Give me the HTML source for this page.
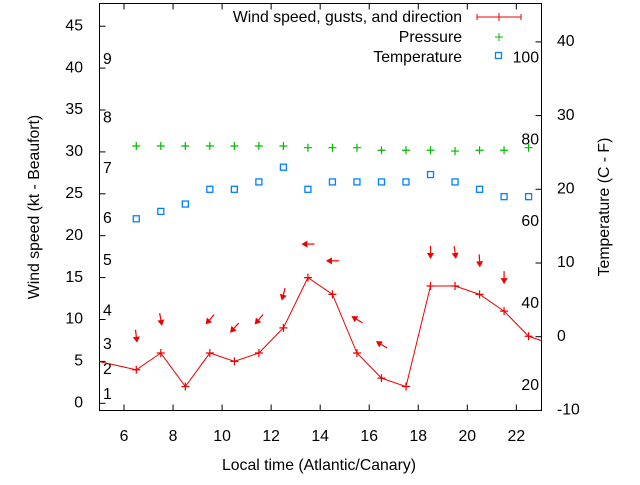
<!DOCTYPE html>
<html><head><meta charset="utf-8"><style>
body{margin:0;background:#fff;width:640px;height:480px;overflow:hidden}
svg text{font-family:"Liberation Sans",sans-serif;font-size:15.8px;fill:#000}
</style></head><body>
<svg id="c" width="640" height="480">
<defs><clipPath id="clip"><rect x="99.5" y="3.5" width="442" height="407"/></clipPath></defs>
<rect x="99.5" y="3.5" width="442" height="407" fill="none" stroke="#000" stroke-width="1"/>
<text x="35" y="207" transform="rotate(-90 35 207)" text-anchor="middle" dominant-baseline="middle">Wind speed (kt - Beaufort)</text>
<text x="605" y="207" transform="rotate(-90 605 207)" text-anchor="middle" dominant-baseline="middle">Temperature (C - F)</text>
<text x="319" y="470" text-anchor="middle">Local time (Atlantic/Canary)</text>
<g>
<text x="462" y="22" text-anchor="end">Wind speed, gusts, and direction</text>
<path d="M477 17H521M477 14V20M521 14V20M499 13V21" stroke="#e00" stroke-width="1"/>
<text x="462" y="42" text-anchor="end">Pressure</text>
<path d="M495 37H503M499 33V41" stroke="#0b0" stroke-width="1"/>
<text x="462" y="62" text-anchor="end">Temperature</text>
<rect x="495.5" y="52.5" width="6" height="6" fill="none" stroke="#0080ff" stroke-width="1.3"/>
</g>
<g id="g"></g>
</svg>
<script>
const hours=[6.5,7.5,8.5,9.5,10.5,11.5,12.5,13.5,14.5,15.5,16.5,17.5,18.5,19.5,20.5,21.5,22.5];
const windSpeed=[4,6,2,6,5,6,9,15,13,6,3,2,14,14,13,11,8];
const windBefore=[4.5,5.3];
const windAfter=[23.5,7];
const pressure=[30.7,30.7,30.7,30.7,30.7,30.7,30.7,30.5,30.5,30.5,30.2,30.2,30.2,30.1,30.2,30.2,30.5];
const temperature=[16,17,18,20,20,21,23,20,21,21,21,21,22,21,20,19,19];
const arrowHours=[6.5,7.5,9.5,10.5,11.5,12.5,13.5,14.5,15.5,16.5,18.5,19.5,20.5,21.5];
const arrowGust=[8,10,10,9,10,13,19,17,10,7,18,18,17,15];
const arrowDir=[353,350,41,42,40,15,90,90,121,121,0,352,357,0];
const xTicks=[6,8,10,12,14,16,18,20,22];
const yTicks=[0,5,10,15,20,25,30,35,40,45];
const y2Ticks=[-10,0,10,20,30,40];
const beaufortKt=[1,4,7,11,17,22,28,34,41];
const beaufortLabels=['1','2','3','4','5','6','7','8','9'];
const fahrenheit=[20,40,60,80,100];

const X=t=>99.5+(t-5)*24.52;
const Y=v=>403.3-v*8.38;
const YT=c=>336.7-c*7.37;
const NS='http://www.w3.org/2000/svg';
const g=document.getElementById('g');
function mk(tag,attrs,parent){const e=document.createElementNS(NS,tag);for(const k in attrs)e.setAttribute(k,attrs[k]);(parent||g).appendChild(e);return e;}
function txt(x,y,s,anchor){const e=mk('text',{x:x,y:y,'text-anchor':anchor,'dominant-baseline':'middle'});e.textContent=s;return e;}

xTicks.forEach(t=>{
 const l=mk('path',{d:`M${X(t)} 410.5v-6M${X(t)} 3.5v6`,stroke:'#000'});
 
 
 const e=txt(X(t),437,String(t),'middle');
 
 
});
yTicks.forEach(v=>{
 const l=mk('path',{d:`M99.5 ${Y(v)}h6`,stroke:'#000'});
 
 
 const e=txt(83,Y(v),String(v),'end');
 
 
});
y2Ticks.forEach(c=>{
 const l=mk('path',{d:`M541.5 ${YT(c)}h-6`,stroke:'#000'});
 
 
 const e=txt(557,YT(c),String(c),'start');
 
 
});
beaufortKt.forEach((v,i)=>{
 const e=txt(103,Y(v),beaufortLabels[i],'start');
 
 
});
fahrenheit.forEach(f=>{
 const e=txt(539,YT((f-32)*5/9),String(f),'end');
 
 
});
const cg=mk('g',{'clip-path':'url(#clip)'});
let pts=[[X(windBefore[0]),Y(windBefore[1])]];
hours.forEach((h,i)=>pts.push([X(h),Y(windSpeed[i])]));
pts.push([X(windAfter[0]),Y(windAfter[1])]);
const line=mk('polyline',{points:pts.map(p=>p.join(',')).join(' '),fill:'none',stroke:'#e00','stroke-width':1},cg);


hours.forEach((h,i)=>{
 const x=X(h),y=Y(windSpeed[i]);
 const m=mk('path',{d:`M${x-4} ${y}h8M${x} ${y-4}v8`,stroke:'#e00','stroke-width':1.2},cg);
 
 
 const p=mk('path',{d:`M${x-4} ${Y(pressure[i])}h8M${x} ${Y(pressure[i])-4}v8`,stroke:'#0b0','stroke-width':1.2},cg);
 
 
 const s=mk('rect',{x:x-3,y:YT(temperature[i])-3,width:6,height:6,fill:'none',stroke:'#0080ff','stroke-width':1.3},cg);
 
 
});
arrowHours.forEach((h,i)=>{
 const cx=X(h),cy=Y(arrowGust[i]);const a=arrowDir[i]*Math.PI/180;
 const dx=-Math.sin(a),dy=Math.cos(a),L=6.5;
 const tx=cx+dx*L,ty=cy+dy*L,sx=cx-dx*L,sy=cy-dy*L;
 const px=-dy,py=dx;
 const bx=tx-dx*6,by=ty-dy*6;
 const ag=mk('g',{},cg);
 
 
 mk('line',{x1:sx,y1:sy,x2:bx,y2:by,stroke:'#e00','stroke-width':1.2},ag);
 mk('polygon',{points:`${tx},${ty} ${bx+px*3.5},${by+py*3.5} ${bx-px*3.5},${by-py*3.5}`,fill:'#e00'},ag);
});
</script>
</body></html>
